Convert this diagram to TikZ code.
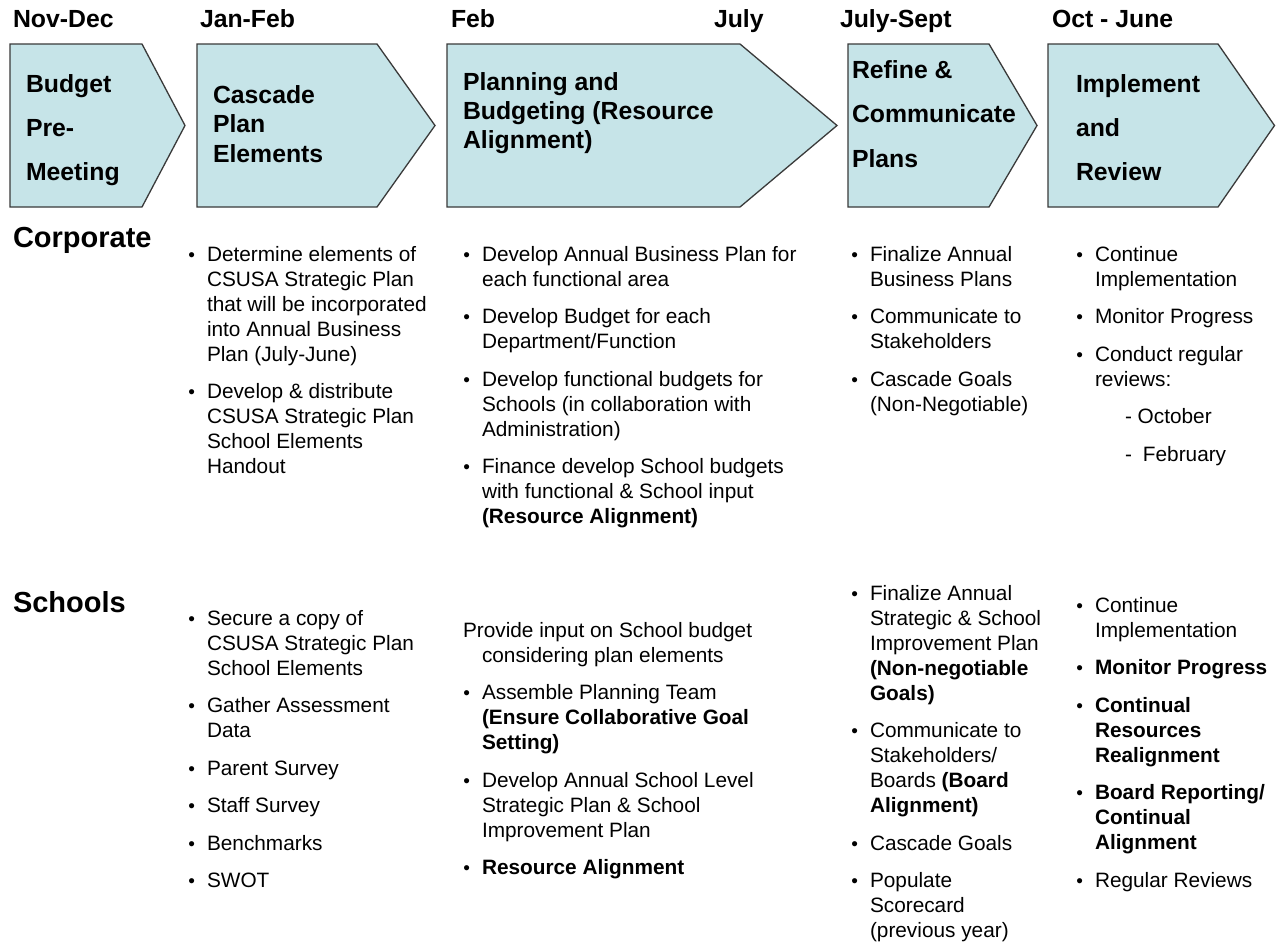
\documentclass[tikz,border=0pt]{standalone}
\usepackage{fontspec}
\setmainfont{Liberation Sans}
\definecolor{chevfill}{HTML}{C6E4E8}
\definecolor{chevline}{HTML}{3A3A3A}
\newcommand{\bodyf}{\fontsize{20.8}{25}\selectfont}
\newcommand{\bu}{\leavevmode\llap{{\fontsize{19}{19}\selectfont\textbullet}\hspace{12pt}}}
\newcommand{\gap}{\\[12.5pt]}
\newcommand{\colbox}[2]{\parbox[t]{#1}{\raggedright\bodyf #2}}
\newcommand{\headbox}[2]{\parbox[t]{320pt}{\raggedright\bfseries\fontsize{24.8}{#1}\selectfont #2}}
\tikzset{
  txt/.style={inner sep=0pt, outer sep=0pt, anchor=base west},
  month/.style={txt, font=\bfseries\fontsize{24.8}{29}\selectfont},
  rowlab/.style={txt, font=\bfseries\fontsize{29}{34}\selectfont},
  chev/.style={fill=chevfill, draw=chevline, line width=1.3pt, line join=miter}
}
\begin{document}
\begin{tikzpicture}[x=1pt,y=-1pt]
\fill[white] (0,0) rectangle (1276,943);
\useasboundingbox (0,0) rectangle (1276,943);

% month labels
\node[month] (m1) at (13,27) {Nov-Dec};
\node[month] (m2) at (200,27) {Jan-Feb};
\node[month] (m3) at (451,27) {Feb};
\node[month] (m3b) at (714,27) {July};
\node[month] (m4) at (840,27) {July-Sept};
\node[month] (m5) at (1052,27) {Oct - June};

% chevrons
\draw[chev] (10,44) -- (142,44) -- (185,125.5) -- (142,207) -- (10,207) -- cycle;
\draw[chev] (197,44) -- (377,44) -- (435,125.5) -- (377,207) -- (197,207) -- cycle;
\draw[chev] (447,44) -- (740,44) -- (837,125.5) -- (740,207) -- (447,207) -- cycle;
\draw[chev] (848,44) -- (989,44) -- (1037,125.5) -- (989,207) -- (848,207) -- cycle;
\draw[chev] (1048,44) -- (1218,44) -- (1274.5,125.5) -- (1218,207) -- (1048,207) -- cycle;

% chevron texts
\node[txt] (c1) at (26,92) {\headbox{44}{Budget\\Pre-\\Meeting}};
\node[txt] (c2) at (213,103) {\headbox{29.5}{Cascade\\Plan\\Elements}};
\node[txt] (c3) at (463,90) {\headbox{29}{Planning and\\Budgeting (Resource\\Alignment)}};
\node[txt] (c4) at (852,78) {\headbox{44.5}{Refine \&\\Communicate\\Plans}};
\node[txt] (c5) at (1076,92) {\headbox{44}{Implement\\and\\Review}};

% row labels
\node[rowlab] (corp) at (13,247) {Corporate};
\node[rowlab] (sch) at (13,612) {Schools};

% Corporate columns
\node[txt] (ca) at (207,261) {\colbox{240pt}{%
\bu Determine elements of\\CSUSA Strategic Plan\\that will be incorporated\\into Annual Business\\Plan (July-June)\gap
\bu Develop \& distribute\\CSUSA Strategic Plan\\School Elements\\Handout}};

\node[txt] (cb) at (482,261) {\colbox{345pt}{%
\bu Develop Annual Business Plan for\\each functional area\gap
\bu Develop Budget for each\\Department/Function\gap
\bu Develop functional budgets for\\Schools (in collaboration with\\Administration)\gap
\bu Finance develop School budgets\\with functional \& School input\\\textbf{(Resource Alignment)}}};

\node[txt] (cc) at (870,261) {\colbox{200pt}{%
\bu Finalize Annual\\Business Plans\gap
\bu Communicate to\\Stakeholders\gap
\bu Cascade Goals\\(Non-Negotiable)}};

\node[txt] (cd) at (1095,261) {\colbox{200pt}{%
\bu Continue\\Implementation\gap
\bu Monitor Progress\gap
\bu Conduct regular\\reviews:\gap
\hspace*{30pt}-\ October\gap
\hspace*{30pt}-\hspace{11pt}February}};

% Schools columns
\node[txt] (sa) at (207,625) {\colbox{240pt}{%
\bu Secure a copy of\\CSUSA Strategic Plan\\School Elements\gap
\bu Gather Assessment\\Data\gap
\bu Parent Survey\gap
\bu Staff Survey\gap
\bu Benchmarks\gap
\bu SWOT}};

\node[txt] (sb) at (482,637) {\colbox{345pt}{%
\hspace*{-19pt}Provide input on School budget\\considering plan elements\gap
\bu Assemble Planning Team\\\textbf{(Ensure Collaborative Goal}\\\textbf{Setting)}\gap
\bu Develop Annual School Level\\Strategic Plan \& School\\Improvement Plan\gap
\bu \textbf{Resource Alignment}}};

\node[txt] (sc) at (870,600) {\colbox{200pt}{%
\bu Finalize Annual\\Strategic \& School\\Improvement Plan\\\textbf{(Non-negotiable}\\\textbf{Goals)}\gap
\bu Communicate to\\Stakeholders/\\Boards \textbf{(Board}\\\textbf{Alignment)}\gap
\bu Cascade Goals\gap
\bu Populate\\Scorecard\\(previous year)}};

\node[txt] (sd) at (1095,612) {\colbox{200pt}{%
\bu Continue\\Implementation\gap
\bu \textbf{Monitor Progress}\gap
\bu \textbf{Continual}\\\textbf{Resources}\\\textbf{Realignment}\gap
\bu \textbf{Board Reporting/}\\\textbf{Continual}\\\textbf{Alignment}\gap
\bu Regular Reviews}};
\end{tikzpicture}
\end{document}
